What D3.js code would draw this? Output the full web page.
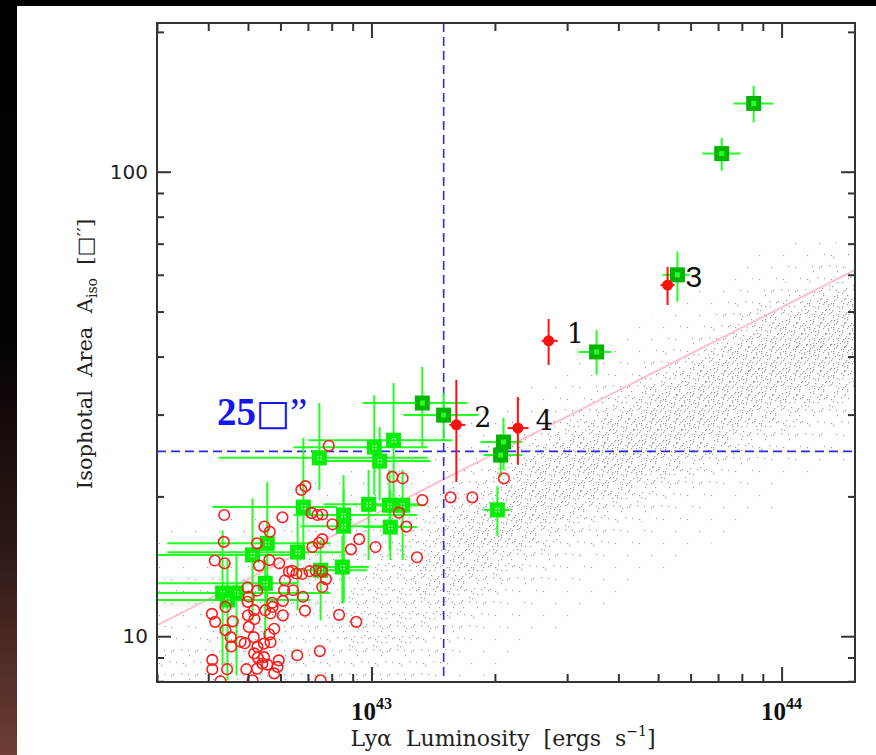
<!DOCTYPE html>
<html>
<head>
<meta charset="utf-8">
<script src="https://cdn.jsdelivr.net/npm/d3@7"></script>
<style>
  html, body { margin: 0; padding: 0; background: #000; }
  svg { display: block; }
  .title { white-space: pre; }
</style>
</head>
<body>
<svg id="chart" width="876" height="755"></svg>
<script>
// Isophotal area vs. Lyα luminosity of emitters and a simulated population.
// Luminosities are stored as log10 L [erg s^-1], areas as log10 A [arcsec^2].

const xDomain = [3.0e42, 1.51e44];
const yDomain = [7.97, 209];
const xMajor = [1e43, 1e44];
const xMajorLabels = [["10", "43"], ["10", "44"]];
const xMinor = [3e42, 4e42, 5e42, 6e42, 7e42, 8e42, 9e42, 2e43, 3e43, 4e43, 5e43, 6e43, 7e43, 8e43, 9e43];
const yMajor = [10, 100];
const yMajorLabels = ["10", "100"];
const yMinor = [8, 9, 20, 30, 40, 50, 60, 70, 80, 90, 200];

// selection limits
const lumCut = 1.5e43;
const areaCut = 25;

// relation traced through the simulated population [log L, log A]
const fitLine = [[42.478, 1.024], [44.18, 1.789]];

// green squares: [log L, log A, log L lo, log L hi, log A lo, log A hi]
const greenDark = [
  [43.932, 2.147, 43.883, 43.980, 2.106, 2.185],
  [43.854, 2.039, 43.807, 43.900, 2.002, 2.073],
  [43.746, 1.778, 43.710, 43.776, 1.720, 1.828],
  [43.549, 1.612, 43.505, 43.585, 1.563, 1.659],
  [43.176, 1.476, 43.078, 43.261, 1.422, 1.524],
  [43.124, 1.502, 42.978, 43.234, 1.407, 1.580],
  [43.322, 1.418, 43.266, 43.368, 1.358, 1.470],
  [43.315, 1.390, 43.273, 43.368, 1.343, 1.433]
];
const greenBright = [
  [43.307, 1.272, 43.273, 43.339, 1.216, 1.323],
  [43.054, 1.422, 42.846, 43.198, 1.293, 1.545],
  [43.007, 1.407, 42.810, 43.137, 1.304, 1.519],
  [43.020, 1.377, 42.876, 43.144, 1.293, 1.450],
  [42.873, 1.384, 42.627, 43.137, 1.315, 1.502],
  [42.834, 1.278, 42.612, 42.917, 1.192, 1.427],
  [42.932, 1.261, 42.810, 43.112, 1.071, 1.347],
  [42.993, 1.284, 42.883, 43.112, 1.164, 1.358],
  [43.044, 1.282, 42.980, 43.112, 1.185, 1.358],
  [43.076, 1.282, 43.015, 43.132, 1.164, 1.358],
  [43.046, 1.235, 42.980, 43.112, 1.164, 1.315],
  [42.932, 1.237, 42.827, 43.071, 1.078, 1.315],
  [42.820, 1.181, 42.502, 42.932, 1.056, 1.293],
  [42.746, 1.200, 42.502, 42.900, 1.078, 1.332],
  [42.710, 1.175, 42.450, 42.820, 1.034, 1.297],
  [42.876, 1.142, 42.810, 42.990, 1.034, 1.207],
  [42.929, 1.149, 42.876, 42.993, 1.071, 1.216],
  [42.741, 1.114, 42.450, 42.820, 0.991, 1.164],
  [42.637, 1.093, 42.400, 42.802, 0.938, 1.228],
  [42.671, 1.093, 42.400, 42.900, 0.916, 1.175],
  [42.649, 1.078, 42.400, 42.851, 0.905, 1.164]
];

// red open circles: [log L, log A]
const redOpen = [
  [42.896,1.410],[43.051,1.343],[43.076,1.340],[43.124,1.293],[43.193,1.299],[43.246,1.299],[43.323,1.340],
  [42.839,1.323],[42.829,1.315],[42.641,1.261],[42.783,1.256],[42.854,1.265],[42.868,1.261],[42.880,1.262],
  [42.905,1.241],[43.067,1.266],[43.085,1.236],[42.739,1.236],[42.752,1.225],[42.640,1.203],[42.721,1.200],
  [42.880,1.209],[42.872,1.201],[42.856,1.192],[42.970,1.209],[43.010,1.192],[42.950,1.187],[43.111,1.170],
  [42.618,1.163],[42.642,1.157],[42.751,1.164],[42.726,1.152],[42.775,1.157],[42.799,1.139],[42.807,1.141],
  [42.817,1.135],[42.849,1.140],[42.864,1.141],[42.880,1.139],[42.889,1.123],[42.789,1.120],[42.831,1.134],
  [42.880,1.106],[42.787,1.099],[42.809,1.099],[42.721,1.098],[42.698,1.105],[42.701,1.085],[42.758,1.072],
  [42.784,1.076],[42.833,1.085],[42.759,1.063],[42.644,1.063],[42.611,1.048],[42.619,1.031],[42.662,1.032],
  [42.699,1.045],[42.715,1.037],[42.741,1.056],[42.754,1.049],[42.714,1.056],[42.698,1.074],[42.838,1.055],
  [42.784,1.045],[42.921,1.046],[42.963,1.031],[42.644,1.013],[42.657,0.998],[42.658,0.978],[42.701,1.020],
  [42.713,0.998],[42.681,0.988],[42.691,0.985],[42.722,0.977],[42.738,0.984],[42.763,1.016],[42.751,1.004],
  [42.754,0.987],[42.714,0.963],[42.723,0.954],[42.738,0.955],[42.746,0.939],[42.774,0.948],[42.771,0.934],
  [42.763,0.920],[42.734,0.941],[42.819,0.959],[42.874,0.968],[42.612,0.949],[42.612,0.929],[42.648,0.929],
  [42.695,0.929],[42.721,0.930],[42.632,0.903],[42.876,0.905],[42.710,0.905]
];

// numbered red points: [label, log L, log A, log L lo, log L hi, log A lo, log A hi]
const redNumbered = [
  ["1", 43.432, 1.636, 43.415, 43.454, 1.584, 1.683],
  ["2", 43.207, 1.455, 43.190, 43.229, 1.332, 1.552],
  ["3", 43.722, 1.756, 43.705, 43.739, 1.713, 1.795],
  ["4", 43.357, 1.448, 43.332, 43.383, 1.369, 1.515]
];

// simulated population: relative point density on a grid
// columns step 0.1 dex in log L from 42.48, rows step 0.05 dex in log A from 0.90
const cloudL0 = 42.48, cloudDL = 0.1, cloudA0 = 0.90, cloudDA = 0.05;
const cloudDensity = [
  [1.2,1.2,1,0.7,0.5,0.3,0.2,0.1,0,0,0,0,0,0,0,0,0,0,0],
  [1.5,1.3,1.2,1,0.7,0.4,0.2,0.1,0,0,0,0,0,0,0,0,0,0,0],
  [1.8,1.8,1.5,1.2,1,0.7,0.4,0.15,0,0,0,0,0,0,0,0,0,0,0],
  [2,2,2,1.6,1.3,1,0.7,0.4,0.15,0,0,0,0,0,0,0,0,0,0],
  [2,2.5,2.5,2.5,2.2,1.8,1.2,0.6,0.25,0.1,0,0,0,0,0,0,0,0,0],
  [2,3,3.5,3.5,3.2,2.5,1.6,0.8,0.3,0.1,0,0,0,0,0,0,0,0,0],
  [1.2,2,3,4,4.5,4,2.8,1.4,0.5,0.2,0.1,0,0,0,0,0,0,0,0],
  [0.3,0.6,1.5,3,4.5,5.5,5.5,4,2,0.6,0.2,0.1,0,0,0,0,0,0,0],
  [0.1,0.2,0.4,1,2.5,4,6,6.5,5,3,1,0.3,0.1,0,0,0,0,0,0],
  [0,0.1,0.2,0.3,1,2,4,6,7,6,3.5,1,0.3,0.1,0,0,0,0,0],
  [0,0,0.1,0.2,0.3,1,2,4,6.5,7.5,6,3,1,0.3,0.1,0,0,0,0],
  [0,0,0,0.1,0.2,0.3,1,2.5,5,7,8,6,3,1,0.3,0.1,0,0,0],
  [0,0,0,0,0.1,0.2,0.3,1,2.5,5,7.5,8,6.5,3,1,0.3,0.1,0,0],
  [0,0,0,0,0,0.1,0.2,0.3,1,3,5.5,7.5,8,6.5,3,1,0.3,0.1,0],
  [0,0,0,0,0,0,0.1,0.2,0.3,1,3,5.5,7.5,8.5,7,4,1.5,0.4,0.1],
  [0,0,0,0,0,0,0,0.1,0.1,0.3,1.5,3.5,6,8,8.5,6.5,3,1,0.3],
  [0,0,0,0,0,0,0,0,0,0.2,0.8,2,4.5,7,8.5,8,5.5,2.5,1]
];
const cloudLevels = [0.15, 0.5, 1.2, 2.5, 4, 5.5, 7, 8.3];

// ---------------------------------------------------------------- layout
const W = 876, H = 755;
const M = { left: 157, right: 855, top: 23, bottom: 682 };
const svg = d3.select("#chart");
const defs = svg.append("defs");

const edge = defs.append("linearGradient").attr("id", "edge")
  .attr("x1", 0).attr("y1", 0).attr("x2", 0).attr("y2", 1);
[[0, "#000"], [0.45, "#050202"], [0.72, "#2c1815"], [1, "#6d3d34"]]
  .forEach(([o, c]) => edge.append("stop").attr("offset", o).attr("stop-color", c));

svg.append("rect").attr("width", W).attr("height", H).attr("fill", "#000");
svg.append("rect").attr("x", 0).attr("y", 0).attr("width", 17).attr("height", H).attr("fill", "url(#edge)");
svg.append("rect").attr("x", 17).attr("y", 6).attr("width", W - 17).attr("height", H - 6).attr("fill", "#fff");

const x = d3.scaleLog().domain(xDomain).range([M.left, M.right]);
const y = d3.scaleLog().domain(yDomain).range([M.bottom, M.top]);
const X = v => x(Math.pow(10, v));
const Y = v => y(Math.pow(10, v));

defs.append("clipPath").attr("id", "plot")
  .append("rect").attr("x", M.left).attr("y", M.top)
  .attr("width", M.right - M.left).attr("height", M.bottom - M.top);

const plot = svg.append("g").attr("clip-path", "url(#plot)");

// ---------------------------------------------------------------- stipple textures
const stippleDots = [[3,3],[15,15],[19,4],[7,19],[11,9],[22,12],[1,13],[16,22],[6,9],[13,2],[21,19],[9,14],[17,9],[3,22]];
const stippleCounts = [2, 2, 5, 10, 12, 12, 12, 12];
const stippleShift = [[0,0],[5,11],[10,22],[15,9],[20,20],[1,7],[6,18],[11,5]];
cloudLevels.forEach((lv, k) => {
  const p = defs.append("pattern").attr("id", "st" + k)
    .attr("patternUnits", "userSpaceOnUse").attr("width", 24).attr("height", 24)
    .attr("patternTransform", `translate(${stippleShift[k][0]},${stippleShift[k][1]})`);
  stippleDots.slice(0, stippleCounts[k]).forEach(([dx, dy]) => {
    p.append("rect").attr("x", dx).attr("y", dy).attr("width", 1.2).attr("height", 1.2).attr("fill", "#9c9c9c");
  });
});

// ---------------------------------------------------------------- simulated cloud
const nx = cloudDensity.length, ny = cloudDensity[0].length;
const grid = new Array(nx * ny);
for (let i = 0; i < nx; i++) for (let j = 0; j < ny; j++) grid[j * nx + i] = cloudDensity[i][j];
const bands = d3.contours().size([nx, ny]).thresholds(cloudLevels)(grid);
const gridPath = d3.geoPath(d3.geoTransform({
  point(gx, gy) { this.stream.point(X(cloudL0 + gx * cloudDL), Y(cloudA0 + gy * cloudDA)); }
}));
plot.append("g").selectAll("path").data(bands).join("path")
  .attr("d", gridPath)
  .attr("fill", (d, i) => `url(#st${i})`);

// ---------------------------------------------------------------- relation line and cuts
plot.append("line")
  .attr("x1", X(fitLine[0][0])).attr("y1", Y(fitLine[0][1]))
  .attr("x2", X(fitLine[1][0])).attr("y2", Y(fitLine[1][1]))
  .attr("stroke", "#ffc0cb").attr("stroke-width", 2);

plot.append("line")
  .attr("x1", x(lumCut)).attr("x2", x(lumCut)).attr("y1", M.top).attr("y2", M.bottom)
  .attr("stroke", "#2b2be8").attr("stroke-width", 1.6).attr("stroke-dasharray", "9,5");
plot.append("line")
  .attr("x1", M.left).attr("x2", M.right).attr("y1", y(areaCut)).attr("y2", y(areaCut))
  .attr("stroke", "#2b2be8").attr("stroke-width", 1.6).attr("stroke-dasharray", "9,5");

// ---------------------------------------------------------------- green squares
const allGreen = greenBright.concat(greenDark);
const gBars = plot.append("g").attr("stroke", "#22ff22").attr("stroke-width", 2);
allGreen.forEach(d => {
  gBars.append("line").attr("x1", X(d[2])).attr("x2", X(d[3])).attr("y1", Y(d[1])).attr("y2", Y(d[1]));
  gBars.append("line").attr("x1", X(d[0])).attr("x2", X(d[0])).attr("y1", Y(d[4])).attr("y2", Y(d[5]));
});

const gBright = plot.append("g");
greenBright.forEach(d => {
  const cx = X(d[0]), cy = Y(d[1]);
  gBright.append("rect").attr("x", cx - 7.5).attr("y", cy - 7.5).attr("width", 15).attr("height", 15).attr("fill", "#06ee06");
  [[-2, -2], [1, -2], [-2, 1], [1, 1]].forEach(([dx, dy]) =>
    gBright.append("rect").attr("x", cx + dx).attr("y", cy + dy).attr("width", 1.4).attr("height", 1.4).attr("fill", "#d8ffd8"));
});
const gDark = plot.append("g");
greenDark.forEach(d => {
  const cx = X(d[0]), cy = Y(d[1]);
  gDark.append("rect").attr("x", cx - 7.5).attr("y", cy - 7.5).attr("width", 15).attr("height", 15).attr("fill", "#00b400");
  gDark.append("rect").attr("x", cx - 2.5).attr("y", cy - 2.5).attr("width", 5).attr("height", 5).attr("fill", "#2aff2a");
});

// ---------------------------------------------------------------- red points
plot.append("g").selectAll("circle").data(redOpen).join("circle")
  .attr("cx", d => X(d[0])).attr("cy", d => Y(d[1])).attr("r", 5.3)
  .attr("fill", "none").attr("stroke", "#ff1c1c").attr("stroke-width", 1.6);

const rN = plot.append("g");
redNumbered.forEach(d => {
  rN.append("line").attr("x1", X(d[3])).attr("x2", X(d[4])).attr("y1", Y(d[2])).attr("y2", Y(d[2]))
    .attr("stroke", "#ff1010").attr("stroke-width", 2);
  rN.append("line").attr("x1", X(d[1])).attr("x2", X(d[1])).attr("y1", Y(d[5])).attr("y2", Y(d[6]))
    .attr("stroke", "#ff1010").attr("stroke-width", 2);
  rN.append("circle").attr("cx", X(d[1])).attr("cy", Y(d[2])).attr("r", 5.5).attr("fill", "#ff1010");
});
svg.append("g").selectAll("text").data(redNumbered).join("text")
  .attr("x", d => X(d[1]) + 18).attr("y", d => Y(d[2]) + 2)
  .attr("font-family", d => d[0] === "3" ? "'Liberation Sans', Arial, sans-serif" : "'DejaVu Serif', serif")
  .attr("font-size", d => d[0] === "3" ? 30 : 27)
  .attr("fill", "#111")
  .text(d => d[0]);

// area threshold label
const cutLabel = svg.append("text")
  .attr("x", M.left + 60).attr("y", y(areaCut) - 26)
  .attr("font-family", "'Liberation Serif', 'Times New Roman', serif")
  .attr("font-size", 39).attr("font-weight", "bold").attr("fill", "#1515f0");
cutLabel.append("tspan").text("25");
cutLabel.append("tspan").attr("font-family", "'DejaVu Sans', sans-serif").attr("font-size", 36)
  .attr("font-weight", "normal").text("□");
cutLabel.append("tspan").attr("font-weight", "normal").text("”");

// ---------------------------------------------------------------- axes
function styleAxis(g) {
  g.select(".domain").remove();
  g.selectAll(".tick line").attr("stroke", "#333").attr("stroke-width", 2);
  g.selectAll(".tick text").remove();
}
svg.append("g").attr("transform", `translate(0,${M.bottom})`)
  .call(d3.axisBottom(x).tickValues(xMajor).tickSize(-15)).call(styleAxis);
svg.append("g").attr("transform", `translate(0,${M.bottom})`)
  .call(d3.axisBottom(x).tickValues(xMinor).tickSize(-8)).call(styleAxis);
svg.append("g").attr("transform", `translate(0,${M.top})`)
  .call(d3.axisTop(x).tickValues(xMajor).tickSize(-15)).call(styleAxis);
svg.append("g").attr("transform", `translate(0,${M.top})`)
  .call(d3.axisTop(x).tickValues(xMinor).tickSize(-8)).call(styleAxis);
svg.append("g").attr("transform", `translate(${M.left},0)`)
  .call(d3.axisLeft(y).tickValues(yMajor).tickSize(-14)).call(styleAxis);
svg.append("g").attr("transform", `translate(${M.left},0)`)
  .call(d3.axisLeft(y).tickValues(yMinor).tickSize(-7)).call(styleAxis);
svg.append("g").attr("transform", `translate(${M.right},0)`)
  .call(d3.axisRight(y).tickValues(yMajor).tickSize(-14)).call(styleAxis);
svg.append("g").attr("transform", `translate(${M.right},0)`)
  .call(d3.axisRight(y).tickValues(yMinor).tickSize(-7)).call(styleAxis);

svg.append("rect").attr("x", M.left).attr("y", M.top)
  .attr("width", M.right - M.left).attr("height", M.bottom - M.top)
  .attr("fill", "none").attr("stroke", "#333").attr("stroke-width", 2);

// tick labels
xMajor.forEach((v, i) => {
  const t = svg.append("text").attr("x", x(v)).attr("y", 720)
    .attr("text-anchor", "middle").attr("fill", "#111")
    .attr("font-family", "'Liberation Serif', 'Times New Roman', serif")
    .attr("font-weight", "bold").attr("font-size", 25);
  t.append("tspan").text(xMajorLabels[i][0]);
  t.append("tspan").attr("font-size", 16).attr("dy", -11).text(xMajorLabels[i][1]);
});
yMajor.forEach((v, i) => {
  svg.append("text").attr("x", 148).attr("y", y(v) + 7)
    .attr("text-anchor", "end").attr("fill", "#222")
    .attr("font-family", "'DejaVu Sans', sans-serif").attr("font-size", 20)
    .text(yMajorLabels[i]);
});

// axis titles
const xt = svg.append("text").attr("class", "title").attr("x", 503).attr("y", 746)
  .attr("text-anchor", "middle").attr("fill", "#222")
  .attr("font-family", "'DejaVu Serif', serif").attr("font-size", 22);
xt.append("tspan").text("Lyα  Luminosity  [ergs  s");
xt.append("tspan").attr("font-size", 14).attr("dy", -10).text("−1");
xt.append("tspan").attr("dy", 10).text("]");

const yt = svg.append("text").attr("class", "title").attr("transform", `translate(92,354) rotate(-90)`)
  .attr("text-anchor", "middle").attr("fill", "#222")
  .attr("font-family", "'DejaVu Serif', serif").attr("font-size", 21);
yt.append("tspan").text("Isophotal  Area  A");
yt.append("tspan").attr("font-size", 14).attr("dy", 5).text("iso");
yt.append("tspan").attr("dy", -5).text("  [□′′]");
</script>
</body>
</html>
